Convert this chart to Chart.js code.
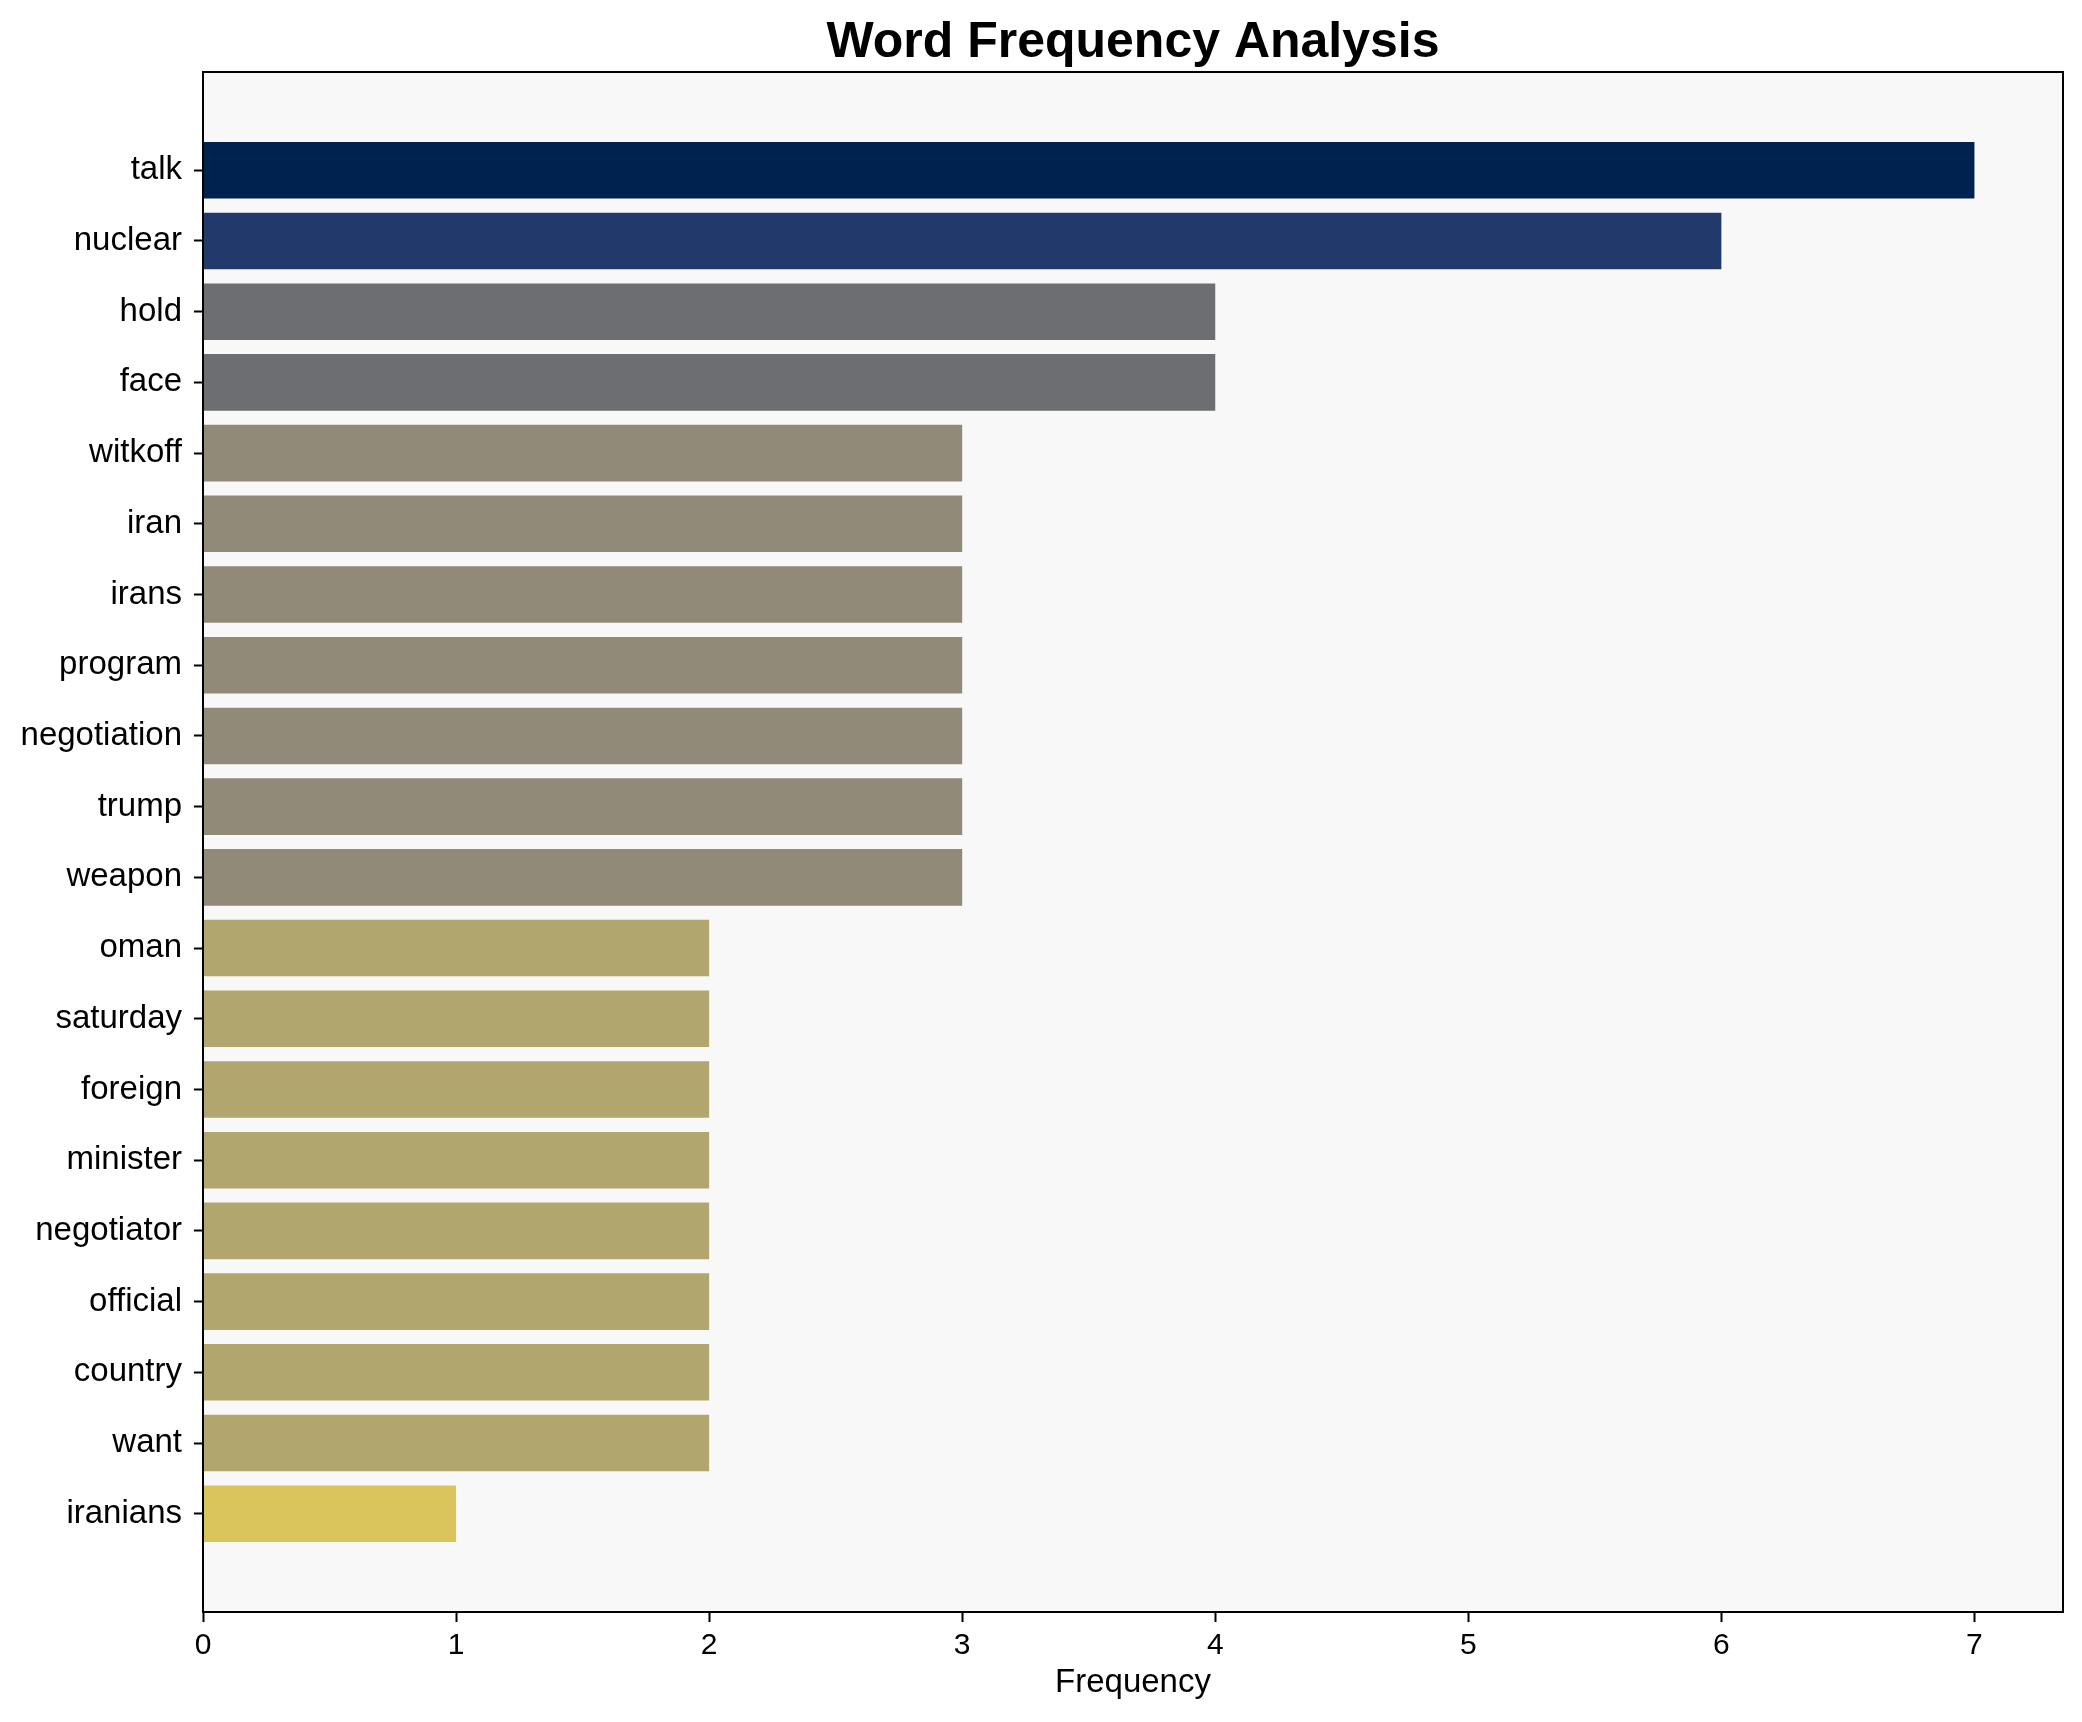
<!DOCTYPE html>
<html>
<head>
<meta charset="utf-8">
<title>Word Frequency Analysis</title>
<script src="https://cdn.jsdelivr.net/npm/chart.js@4/dist/chart.umd.min.js"></script>
<style>
  html, body { margin: 0; padding: 0; background: #ffffff; }
  canvas { display: block; }
</style>
</head>
<body>
<canvas id="wordChart" width="2082" height="1722"></canvas>
<script>
// Data (top to bottom)
const words = ['talk', 'nuclear', 'hold', 'face', 'witkoff', 'iran', 'irans', 'program',
  'negotiation', 'trump', 'weapon', 'oman', 'saturday', 'foreign', 'minister',
  'negotiator', 'official', 'country', 'want', 'iranians'];
const counts = [7, 6, 4, 4, 3, 3, 3, 3, 3, 3, 3, 2, 2, 2, 2, 2, 2, 2, 2, 1];
const xTicks = [0, 1, 2, 3, 4, 5, 6, 7];
const chartTitle = 'Word Frequency Analysis';

// Bar colour by frequency (cividis-like)
const colorByCount = {
  7: '#00224e',
  6: '#223a6b',
  4: '#6c6e72',
  3: '#918a78',
  2: '#b2a66f',
  1: '#d9c55c'
};

const FONT = "'Liberation Sans', Arial, Helvetica, sans-serif";

// Plot background + white canvas
const backgroundPlugin = {
  id: 'backgroundPlugin',
  beforeDraw(chart) {
    const { ctx, chartArea: a } = chart;
    ctx.save();
    ctx.fillStyle = '#ffffff';
    ctx.fillRect(0, 0, chart.width, chart.height);
    ctx.fillStyle = '#f8f8f8';
    ctx.fillRect(a.left, a.top, a.right - a.left, a.bottom - a.top);
    ctx.restore();
  }
};

// Black frame around the plot area (over the bars) and title centred on the axes
const framePlugin = {
  id: 'framePlugin',
  afterDatasetsDraw(chart) {
    const { ctx, chartArea: a } = chart;
    ctx.save();
    ctx.strokeStyle = '#000000';
    ctx.lineWidth = 2;
    ctx.strokeRect(a.left, a.top, a.right - a.left, a.bottom - a.top);
    ctx.fillStyle = '#000000';
    ctx.font = 'bold 50px ' + FONT;
    ctx.textAlign = 'center';
    ctx.textBaseline = 'alphabetic';
    ctx.fillText(chartTitle, (a.left + a.right) / 2, 57);
    ctx.restore();
  }
};

const ctx = document.getElementById('wordChart');
new Chart(ctx, {
  type: 'bar',
  data: {
    datasets: [{
      label: 'Frequency',
      data: counts.map((c, i) => ({ x: c, y: i })),
      backgroundColor: counts.map(c => colorByCount[c]),
      borderWidth: 0,
      barPercentage: 0.8,
      categoryPercentage: 1.0
    }]
  },
  options: {
    indexAxis: 'y',
    responsive: false,
    devicePixelRatio: 1,
    animation: false,
    layout: { padding: { left: 0, right: 19, top: 72, bottom: 0 } },
    plugins: {
      legend: { display: false },
      tooltip: { enabled: false },
      title: { display: false }
    },
    scales: {
      x: {
        type: 'linear',
        min: 0,
        max: 7.35,
        afterFit(scale) { scale.height = 110; },
        afterBuildTicks(axis) { axis.ticks = xTicks.map(v => ({ value: v })); },
        border: { display: false },
        grid: {
          drawOnChartArea: false,
          drawTicks: true,
          tickLength: 10,
          tickWidth: 2,
          tickColor: '#000000'
        },
        ticks: {
          color: '#000000',
          padding: 6,
          font: { family: FONT, size: 30 },
          maxRotation: 0
        },
        title: {
          display: true,
          text: 'Frequency',
          color: '#000000',
          font: { family: FONT, size: 33 },
          padding: { top: 0, bottom: 19 }
        }
      },
      y: {
        type: 'linear',
        reverse: true,
        offset: false,
        min: -1.39,
        max: 20.39,
        afterFit(scale) { scale.width = 203; },
        afterBuildTicks(axis) { axis.ticks = words.map((w, i) => ({ value: i })); },
        border: { display: false },
        grid: {
          offset: false,
          drawOnChartArea: false,
          drawTicks: true,
          tickLength: 9,
          tickWidth: 2,
          tickColor: '#000000'
        },
        ticks: {
          color: '#000000',
          padding: 12,
          autoSkip: false,
          font: { family: FONT, size: 33 },
          callback: (value) => words[value]
        }
      }
    }
  },
  plugins: [backgroundPlugin, framePlugin]
});
</script>
</body>
</html>
